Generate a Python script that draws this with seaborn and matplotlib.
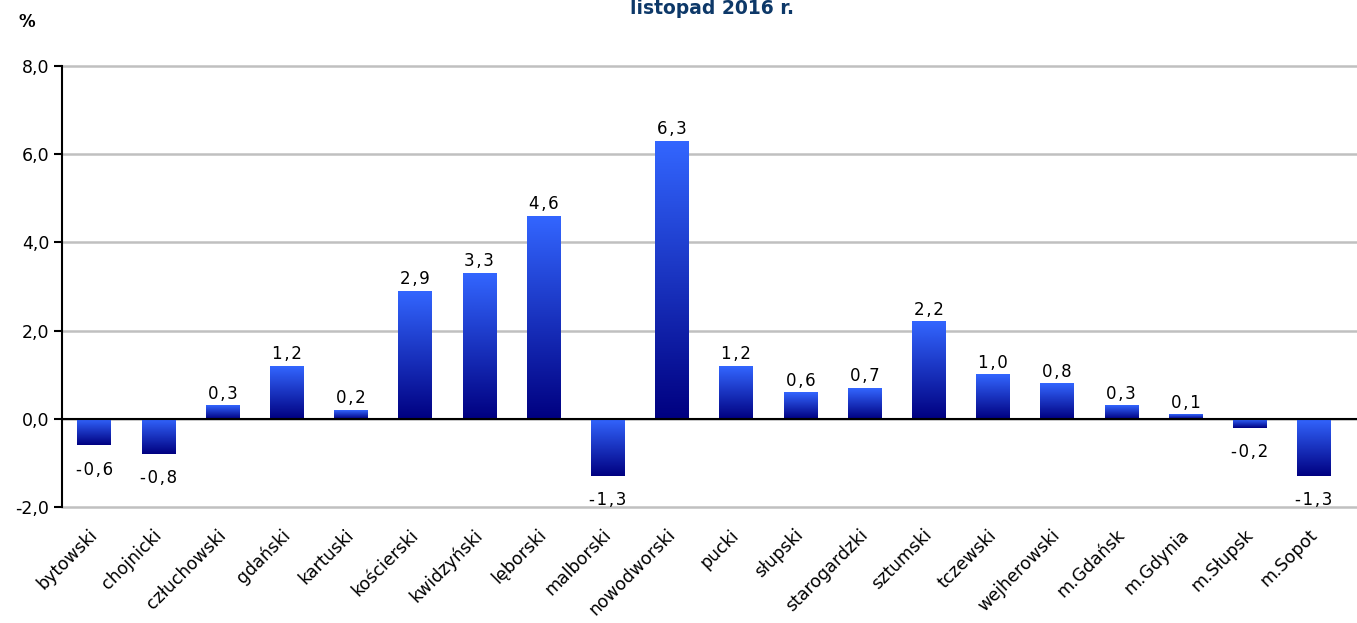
import numpy as np
import pandas as pd
import matplotlib
matplotlib.use("Agg")
import matplotlib.pyplot as plt
import matplotlib.transforms as mtransforms
import seaborn as sns
from matplotlib.colors import LinearSegmentedColormap

# data
powiaty = ["bytowski", "chojnicki", "człuchowski", "gdański", "kartuski",
           "kościerski", "kwidzyński", "lęborski", "malborski", "nowodworski",
           "pucki", "słupski", "starogardzki", "sztumski", "tczewski",
           "wejherowski", "m.Gdańsk", "m.Gdynia", "m.Słupsk", "m.Sopot"]
wartosci = [-0.6, -0.8, 0.3, 1.2, 0.2, 2.9, 3.3, 4.6, -1.3, 6.3,
            1.2, 0.6, 0.7, 2.2, 1.0, 0.8, 0.3, 0.1, -0.2, -1.3]
y_ticks = [-2, 0, 2, 4, 6, 8]
tytul = "listopad 2016 r."

df = pd.DataFrame({"powiat": powiaty, "wartosc": wartosci})

sns.set_style("white")
plt.rcParams['font.family'] = ['DejaVu Sans']
plt.rcParams['text.color'] = 'black'
plt.rcParams['xtick.color'] = 'black'
plt.rcParams['ytick.color'] = 'black'

fig = plt.figure(figsize=(13.57, 6.23), dpi=100)
ax = fig.add_axes([62 / 1357, 1 - 507 / 623, 1 - 62 / 1357, (507 - 66) / 623])

sns.barplot(data=df, x="powiat", y="wartosc", color="#3366ff", width=0.52, ax=ax, zorder=3)

# gradient fill: bright on top, dark at the bottom of each bar
cmap = LinearSegmentedColormap.from_list("grad", ["#3366ff", "#000080"])
grad = np.linspace(0, 1, 256).reshape(-1, 1)
for p in ax.patches:
    x0, w = p.get_x(), p.get_width()
    y0, h = p.get_y(), p.get_height()
    lo, hi = min(y0, y0 + h), max(y0, y0 + h)
    ax.imshow(grad, extent=[x0, x0 + w, lo, hi], aspect="auto", cmap=cmap,
              origin="upper", zorder=4)
    p.set_visible(False)

# value labels (spaced out like the original)
for i, v in enumerate(wartosci):
    txt = "\u200a".join(f"{v:.1f}".replace(".", ","))
    if v >= 0:
        ax.annotate(txt, (i, v), xytext=(0, 2), textcoords="offset points",
                    ha="center", va="bottom", fontsize=12, zorder=5)
    else:
        ax.annotate(txt, (i, v), xytext=(0, -11), textcoords="offset points",
                    ha="center", va="top", fontsize=12, zorder=5)

ax.set_xlim(-0.5, 19.67)
ax.set_ylim(-2, 8)
ax.set_yticks(y_ticks)
ax.set_yticklabels([f"{t:.1f}".replace(".", ",") for t in y_ticks], fontsize=12.5)
ax.yaxis.grid(True, color="#c0c0c0", lw=1.8, zorder=0)
for gl in ax.get_ygridlines():
    gl.set_clip_on(False)
ax.set_xlabel("")
ax.set_ylabel("")

# axes styling
for s in ["top", "right"]:
    ax.spines[s].set_visible(False)
ax.spines["left"].set_color("black")
ax.spines["left"].set_linewidth(1.5)
ax.spines["left"].set_zorder(6)
ax.spines["bottom"].set_position(("data", 0))
ax.spines["bottom"].set_color("black")
ax.spines["bottom"].set_linewidth(1.5)
ax.spines["bottom"].set_zorder(6)
ax.tick_params(axis="y", left=True, length=6, width=1.5, color="black", pad=3)

ax.set_xticks(range(len(powiaty)))
ax.set_xticklabels(powiaty, rotation=45, ha="right", va="top",
                   rotation_mode="anchor", fontsize=12.5)
ax.tick_params(axis="x", which="major", length=0, pad=77)
shift = mtransforms.ScaledTranslation(-6 / 100, 0, fig.dpi_scale_trans)
for lab in ax.get_xticklabels():
    lab.set_transform(lab.get_transform() + shift)
ax.set_xticks(np.arange(0.5, len(powiaty) - 0.5, 1), minor=True)
ax.tick_params(axis="x", which="minor", length=6, width=1.5, color="black", direction="out")

fig.text(27 / 1357, 1 - 22 / 623, "%", fontsize=12, fontweight="bold",
         ha="center", va="center")
fig.text(712 / 1357, 1 - 14 / 623, tytul, fontsize=13.5, fontweight="bold",
         color="#0d3868", ha="center", va="baseline")

fig.savefig("out.png", dpi=100)
